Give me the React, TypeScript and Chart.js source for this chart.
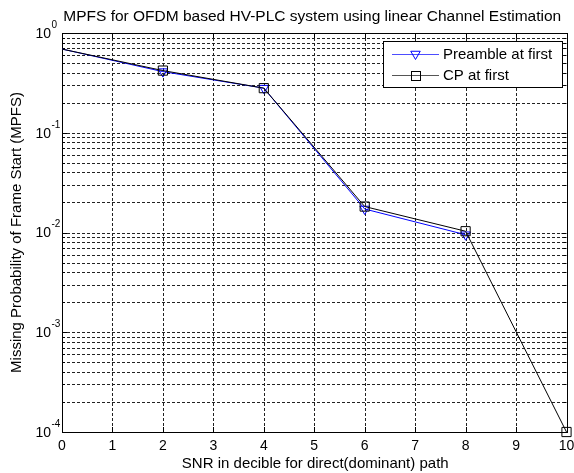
import React, { useEffect, useRef } from "react";
import { Chart, registerables } from "chart.js";

Chart.register(...registerables);

// ---- data ----
const snr = [0, 2, 4, 6, 8, 10];
const preambleFirst: (number | null)[] = [0.69, 0.41, 0.28, 0.0172, 0.0095, null];
const cpFirst: (number | null)[] = [0.69, 0.42, 0.28, 0.0182, 0.0103, 0.0001];
const xTickValues = [0, 1, 2, 3, 4, 5, 6, 7, 8, 9, 10];
const yDecadeExponents = [0, -1, -2, -3, -4];
const seriesNames = ["Preamble at first", "CP at first"];
const titleText = "MPFS for OFDM based HV-PLC system using linear Channel Estimation";
const xTitle = "SNR in decible for direct(dominant) path";
const yTitle = "Missing Probability of Frame Start (MPFS)";

const FONT = '"Liberation Sans", Arial, Helvetica, sans-serif';
const BLUE = "#0000ff";
const BLACK = "#000000";

const W = 574;
const H = 473;

function drawTri(ctx: CanvasRenderingContext2D, x: number, y: number, r: number, color: string) {
  ctx.save();
  ctx.strokeStyle = color;
  ctx.lineWidth = 1;
  ctx.beginPath();
  ctx.moveTo(x - r * 0.866, y - r * 0.5);
  ctx.lineTo(x + r * 0.866, y - r * 0.5);
  ctx.lineTo(x, y + r);
  ctx.closePath();
  ctx.stroke();
  ctx.restore();
}

function drawSq(ctx: CanvasRenderingContext2D, x: number, y: number, s: number, color: string) {
  ctx.save();
  ctx.strokeStyle = color;
  ctx.lineWidth = 1;
  ctx.strokeRect(Math.round(x - s / 2) + 0.5, Math.round(y - s / 2) + 0.5, s, s);
  ctx.restore();
}

const matlabPlugin = {
  id: "matlabLook",
  beforeDatasetsDraw(chart: any) {
    const { ctx, chartArea: a, scales } = chart;
    const xs = scales.x;
    const ys = scales.y;
    ctx.save();
    ctx.strokeStyle = "#222";
    ctx.lineWidth = 1;
    ctx.setLineDash([3, 2]);
    for (const v of xTickValues) {
      const px = Math.round(xs.getPixelForValue(v)) + 0.5;
      ctx.beginPath();
      ctx.moveTo(px, a.top);
      ctx.lineTo(px, a.bottom);
      ctx.stroke();
    }
    for (const e of yDecadeExponents) {
      if (e === 0) continue;
      for (let m = 1; m <= 9; m++) {
        const v = m * Math.pow(10, e);
        const py = Math.round(ys.getPixelForValue(v)) + 0.5;
        ctx.beginPath();
        ctx.moveTo(a.left, py);
        ctx.lineTo(a.right, py);
        ctx.stroke();
      }
    }
    ctx.setLineDash([]);
    ctx.strokeStyle = BLACK;
    for (const v of xTickValues) {
      const px = Math.round(xs.getPixelForValue(v)) + 0.5;
      ctx.beginPath();
      ctx.moveTo(px, a.bottom);
      ctx.lineTo(px, a.bottom - 5);
      ctx.moveTo(px, a.top);
      ctx.lineTo(px, a.top + 5);
      ctx.stroke();
    }
    for (const e of yDecadeExponents) {
      for (let m = 1; m <= 9; m++) {
        if (e === 0 && m > 1) continue;
        const v = m * Math.pow(10, e);
        const py = Math.round(ys.getPixelForValue(v)) + 0.5;
        const len = m === 1 ? 5 : 3;
        ctx.beginPath();
        ctx.moveTo(a.left, py);
        ctx.lineTo(a.left + len, py);
        ctx.moveTo(a.right, py);
        ctx.lineTo(a.right - len, py);
        ctx.stroke();
      }
    }
    ctx.strokeRect(Math.round(a.left) + 0.5, Math.round(a.top) + 0.5, Math.round(a.right - a.left), Math.round(a.bottom - a.top));
    ctx.restore();
  },
  afterDraw(chart: any) {
    const { ctx, chartArea: a, scales } = chart;
    const xs = scales.x;
    const ys = scales.y;
    ctx.save();
    ctx.fillStyle = BLACK;
    ctx.font = `15.5px ${FONT}`;
    ctx.textAlign = "center";
    ctx.textBaseline = "middle";
    ctx.fillText(titleText, (a.left + a.right) / 2 - 2, 17);
    ctx.font = `14px ${FONT}`;
    for (const v of xTickValues) {
      ctx.fillText(String(v), xs.getPixelForValue(v), a.bottom + 14);
    }
    ctx.font = `15px ${FONT}`;
    ctx.fillText(xTitle, (a.left + a.right) / 2 + 1, a.bottom + 32);
    for (const e of yDecadeExponents) {
      const py = ys.getPixelForValue(Math.pow(10, e));
      ctx.font = `14px ${FONT}`;
      ctx.textAlign = "right";
      ctx.fillText("10", 51, py + 1);
      ctx.font = `10px ${FONT}`;
      ctx.textAlign = "left";
      ctx.fillText(String(e), 51.5, py - 8);
    }
    ctx.font = `15px ${FONT}`;
    ctx.textAlign = "center";
    ctx.translate(17, (a.top + a.bottom) / 2);
    ctx.rotate(-Math.PI / 2);
    ctx.fillText(yTitle, 0, 0);
    ctx.restore();

    // legend
    ctx.save();
    const lx = 383, ly = 41, lw = 179, lh = 46;
    ctx.fillStyle = "#fff";
    ctx.fillRect(lx, ly, lw, lh);
    ctx.strokeStyle = BLACK;
    ctx.lineWidth = 1;
    ctx.strokeRect(lx + 0.5, ly + 0.5, lw, lh);
    const rows = [
      { y: 54, color: "#4d4dff", mark: "tri" },
      { y: 75, color: "#555555", mark: "sq" },
    ];
    rows.forEach((r, i) => {
      ctx.strokeStyle = r.color;
      ctx.beginPath();
      ctx.moveTo(392, r.y + 0.5);
      ctx.lineTo(439, r.y + 0.5);
      ctx.stroke();
      if (r.mark === "tri") drawTri(ctx, 415.5, r.y, 5.5, BLUE);
      else drawSq(ctx, 415.5, r.y, 9, BLACK);
      ctx.fillStyle = BLACK;
      ctx.font = `15px ${FONT}`;
      ctx.textAlign = "left";
      ctx.textBaseline = "middle";
      ctx.fillText(seriesNames[i], 443, r.y + 1);
    });
    ctx.restore();
  },
};

export default function App() {
  const ref = useRef<HTMLCanvasElement>(null);
  useEffect(() => {
    if (!ref.current) return;
    const hideFirst = (r: number) => snr.map((_, i) => (i === 0 ? 0 : r));
    const chart = new Chart(ref.current, {
      type: "line",
      data: {
        datasets: [
          {
            label: seriesNames[0],
            data: snr.map((x, i) => ({ x, y: preambleFirst[i] })) as any,
            borderColor: BLUE,
            backgroundColor: "rgba(0,0,0,0)",
            borderWidth: 1,
            pointStyle: "triangle",
            pointRotation: 180,
            pointRadius: hideFirst(5.5),
            pointBorderColor: BLUE,
            pointBackgroundColor: "rgba(0,0,0,0)",
            pointBorderWidth: 1,
            spanGaps: false,
            clip: false as any,
            order: 1,
          },
          {
            label: seriesNames[1],
            data: snr.map((x, i) => ({ x, y: cpFirst[i] })) as any,
            borderColor: BLACK,
            backgroundColor: "rgba(0,0,0,0)",
            borderWidth: 1,
            pointStyle: "rect",
            pointRadius: hideFirst(6.5),
            pointBorderColor: BLACK,
            pointBackgroundColor: "rgba(0,0,0,0)",
            pointBorderWidth: 1,
            clip: false as any,
            order: 0,
          },
        ],
      },
      options: {
        responsive: false,
        animation: false,
        devicePixelRatio: 1,
        layout: { padding: { left: 62, right: 5, top: 33, bottom: 41 } },
        plugins: { legend: { display: false }, tooltip: { enabled: false }, title: { display: false } },
        elements: { line: { tension: 0 } },
        scales: {
          x: {
            type: "linear",
            min: 0,
            max: 10,
            ticks: { display: false },
            grid: { display: false, drawTicks: false },
            border: { display: false },
          },
          y: {
            type: "logarithmic",
            min: 1e-4,
            max: 1,
            ticks: { display: false },
            grid: { display: false, drawTicks: false },
            border: { display: false },
          },
        },
      },
      plugins: [matlabPlugin],
    });
    return () => chart.destroy();
  }, []);
  return (
    <div style={{ position: "absolute", left: 0, top: 0, width: W, height: H, background: "#fff" }}>
      <canvas ref={ref} width={W} height={H} style={{ display: "block", width: W, height: H }} />
    </div>
  );
}
